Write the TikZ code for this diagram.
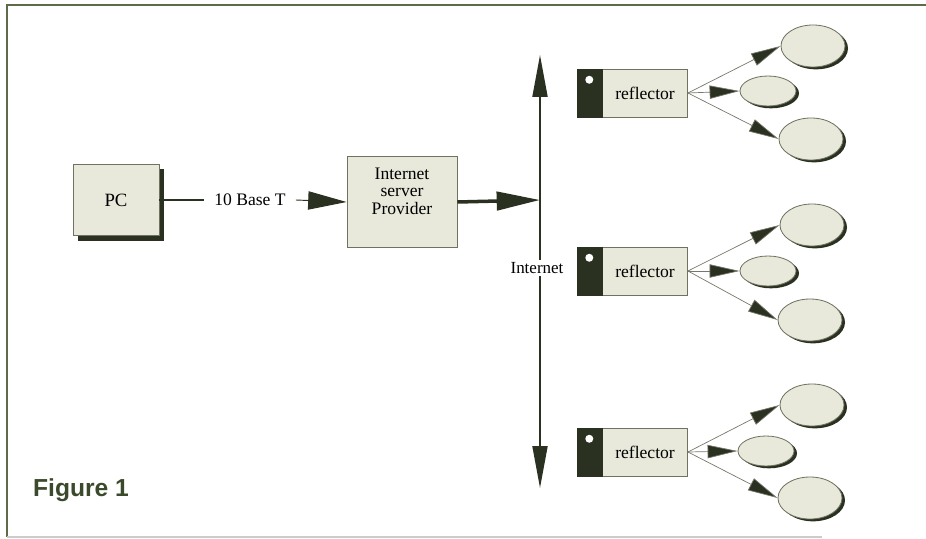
\documentclass[tikz,border=0pt]{standalone}
\usepackage{fontspec}
\setmainfont{Liberation Serif}
\newfontfamily\figfont{Liberation Sans}
\usepackage{tikz}
\usetikzlibrary{shapes,arrows.meta,positioning,shadows}
\usepackage{xcolor}
\definecolor{boxfill}{HTML}{E8E9DB}
\definecolor{edgegray}{HTML}{6E725E}
\definecolor{darkolive}{HTML}{2A3120}
\definecolor{framegreen}{HTML}{5E6B48}
\definecolor{linegray}{HTML}{76786A}
\definecolor{figgreen}{HTML}{3B4A2C}

\begin{document}
\begin{tikzpicture}[x=0.03cm,y=-0.03cm,
  box/.style={draw=edgegray,fill=boxfill,line width=0.8pt,font=\fontsize{15}{15}\selectfont,align=center,inner sep=0pt},
  tab/.style={draw=darkolive,fill=darkolive,minimum width=0.75cm,minimum height=1.44cm,inner sep=0pt},
  client/.style={ellipse,draw=edgegray,fill=boxfill,line width=0.7pt,inner sep=0pt,
    drop shadow={shadow xshift=0.09cm,shadow yshift=-0.07cm,fill=darkolive,opacity=1}},
  fan/.style={draw=linegray,line width=0.6pt,-{Triangle[length=0.9cm,width=0.4cm,fill=darkolive]}}]
\useasboundingbox (0,0) rectangle (926,539);
% frame
\draw[framegreen,line width=1.6pt] (926,5)--(7,5)--(7,537);
\draw[gray!40,line width=1.2pt] (7,537)--(822,537);
\node[font=\figfont\bfseries\fontsize{21}{21}\selectfont,text=figgreen] (fig) at (81,490){Figure 1};
% PC and provider
\node[box,minimum width=2.58cm,minimum height=2.13cm,font=\fontsize{16}{16}\selectfont,
  drop shadow={shadow xshift=0.15cm,shadow yshift=-0.15cm,fill=darkolive,opacity=1}] (pc) at (116,200){PC};
\node[font=\fontsize{15}{15}\selectfont,inner xsep=0.3cm] (base) at (250,200){10 Base T};
\node[box,minimum width=3.3cm,minimum height=2.73cm,text depth=0.65cm] (isp) at (402,202){Internet\\server\\Provider};
\draw[darkolive,line width=1pt] (pc.east)--(base.west);
\draw[darkolive,line width=0.8pt,-{Triangle[length=1.15cm,width=0.55cm]}] (base.east)--(isp.west);
% internet backbone
\coordinate (top) at (540,55);
\coordinate (bot) at (540,488);
\coordinate (hub) at (540,200);
\node[font=\fontsize{14.5}{14.5}\selectfont,fill=white,inner sep=2pt] (inet) at (537,268){Internet};
\draw[darkolive,line width=1.6pt,-{Triangle[length=1.26cm,width=0.45cm]}] (inet.north -| top)--(top);
\draw[darkolive,line width=1.6pt,-{Triangle[length=1.26cm,width=0.45cm]}] (inet.south -| bot)--(bot);
\draw[darkolive,line width=3pt,-{Triangle[length=1.3cm,width=0.55cm]}] (isp.east)--(hub);
% reflector 1
\node[box,minimum width=2.55cm,minimum height=1.44cm] (refa) at (645,93){reflector};
\node[tab,left=0pt of refa] (taba){};
\fill[white] ([yshift=-0.33cm]taba.north) circle (0.12cm);
\node[client,minimum width=1.92cm,minimum height=1.26cm] (a1) at (813,46){};
\node[client,minimum width=1.68cm,minimum height=0.9cm] (a2) at (768,91){};
\node[client,minimum width=1.92cm,minimum height=1.26cm] (a3) at (811,139){};
\draw[fan] (refa.east)--(a1.west);
\draw[fan] (refa.east)--(a2.west);
\draw[fan] (refa.east)--(a3.west);
% reflector 2
\node[box,minimum width=2.55cm,minimum height=1.44cm] (refb) at (645,271){reflector};
\node[tab,left=0pt of refb] (tabb){};
\fill[white] ([yshift=-0.33cm]tabb.north) circle (0.12cm);
\node[client,minimum width=1.92cm,minimum height=1.26cm] (b1) at (812,225){};
\node[client,minimum width=1.68cm,minimum height=0.9cm] (b2) at (768,271){};
\node[client,minimum width=1.92cm,minimum height=1.26cm] (b3) at (810,320){};
\draw[fan] (refb.east)--(b1.west);
\draw[fan] (refb.east)--(b2.west);
\draw[fan] (refb.east)--(b3.west);
% reflector 3
\node[box,minimum width=2.55cm,minimum height=1.44cm] (refc) at (645,452){reflector};
\node[tab,left=0pt of refc] (tabc){};
\fill[white] ([yshift=-0.33cm]tabc.north) circle (0.12cm);
\node[client,minimum width=1.92cm,minimum height=1.26cm] (c1) at (812,405){};
\node[client,minimum width=1.68cm,minimum height=0.9cm] (c2) at (766,451){};
\node[client,minimum width=1.92cm,minimum height=1.26cm] (c3) at (810,498){};
\draw[fan] (refc.east)--(c1.west);
\draw[fan] (refc.east)--(c2.west);
\draw[fan] (refc.east)--(c3.west);
\end{tikzpicture}
\end{document}
